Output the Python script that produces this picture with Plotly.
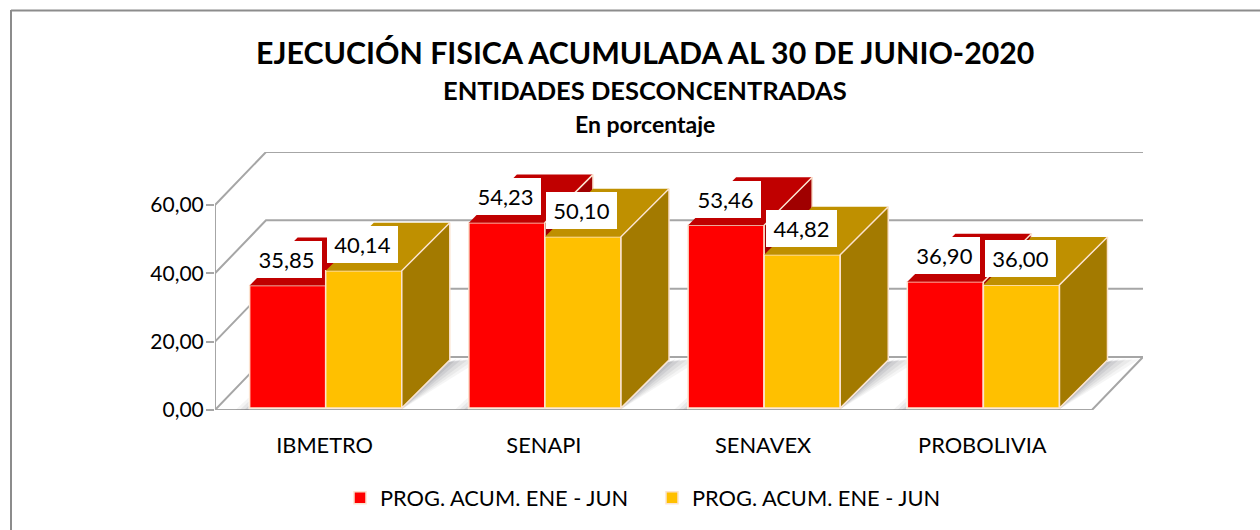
import plotly.graph_objects as go

categories = ["IBMETRO", "SENAPI", "SENAVEX", "PROBOLIVIA"]
red_values = [35.85, 54.23, 53.46, 36.90]
gold_values = [40.14, 50.10, 44.82, 36.00]
series_name = "PROG. ACUM. ENE - JUN"
y_ticks = [0, 20, 40, 60]

FONT = "Lato"
W, H = 1260, 530
L, R, T, B = 215, 1143, 152, 410
XMIN, XMAX = -0.5, 3.733
YMAX = 75.5
BAR_W = 0.347
BAR_DX, BAR_DY = 0.219, 14.05
WALL_DX, WALL_DY = 0.2326, 15.5
GRID = "#A6A6A6"
EDGE = "#FBE3CF"
BAR_LIFT = 0.6
BAR_NUDGE = 0.005


def px(x):
    return (x - L) / (R - L)


def py(y):
    return (B - y) / (B - T)


fig = go.Figure()


def line(xs, ys, width=2, color=GRID):
    fig.add_trace(go.Scatter(x=xs, y=ys, mode="lines", line=dict(color=color, width=width),
                             showlegend=False, hoverinfo="skip"))


def poly(xs, ys, color, edge=None, xa="x", ya="y"):
    fig.add_trace(go.Scatter(x=xs + xs[:1], y=ys + ys[:1], mode="lines", fill="toself", fillcolor=color,
                             line=dict(color=edge or "rgba(0,0,0,0)", width=1.5 if edge else 0),
                             showlegend=False, hoverinfo="skip", xaxis=xa, yaxis=ya))


# Walls and floor
for v in y_ticks:
    line([XMIN, XMIN + WALL_DX, XMAX], [v, v + WALL_DY, v + WALL_DY])
line([XMIN, 3.5, XMAX], [0, 0, WALL_DY])
line([XMIN, XMIN], [0, y_ticks[-1]])

# Floor shadows
for i in range(len(categories)):
    xr = i + BAR_W
    for s, a in ((0.15, 0.07), (0.12, 0.08), (0.09, 0.1), (0.06, 0.13), (0.035, 0.16), (0.015, 0.2)):
        poly([xr, xr + BAR_DX, xr + BAR_DX + s], [0, BAR_DY, BAR_DY + 0.8], f"rgba(110,112,120,{a})")
    xl = i - BAR_W
    for s, a in ((0.06, 0.08), (0.04, 0.1), (0.02, 0.15)):
        poly([xl - s, xl, xl], [0, 0, s * 60], f"rgba(110,112,120,{a})")


def add_series(vals, offset, front, top, side, xa, ya):
    fig.add_trace(go.Bar(x=list(range(len(vals))), y=vals, width=BAR_W, offset=offset, name=series_name,
                         marker=dict(color=front, line=dict(color=EDGE, width=1.5)),
                         hoverinfo="skip", xaxis=xa, yaxis=ya))
    for i, v in enumerate(vals):
        x0, x1 = i + offset, i + offset + BAR_W
        poly([x0, x1, x1 + BAR_DX, x0 + BAR_DX], [v, v, v + BAR_DY, v + BAR_DY], top, None, xa, ya)
        poly([x1, x1 + BAR_DX, x1 + BAR_DX, x1], [0, BAR_DY, v + BAR_DY, v], side, EDGE, xa, ya)


add_series(red_values, -BAR_W, "#FF0000", "#C00000", "#A00000", "x2", "y2")
add_series(gold_values, 0, "#FFC000", "#BF9000", "#A37A00", "x3", "y3")

annotations = []
for vals, shift in ((red_values, -BAR_W / 2), (gold_values, BAR_W / 2)):
    for i, v in enumerate(vals):
        annotations.append(dict(x=i + shift, y=v, xref="x", yref="y", yshift=28, showarrow=False,
                                text=f"{v:.2f}".replace(".", ","), bgcolor="white", width=71, height=37,
                                borderpad=0, borderwidth=0,
                                align="center", valign="middle", font=dict(family=FONT, size=22, color="black")))
for text, cx, cy, size in (
    ("<b>EJECUCIÓN FISICA ACUMULADA AL 30 DE JUNIO-2020</b>", 645, 52, 30.3),
    ("<b>ENTIDADES DESCONCENTRADAS</b>", 645, 90, 25.5),
    ("<b>En porcentaje</b>", 645, 124, 23),
):
    annotations.append(dict(x=px(cx), y=py(cy), xref="paper", yref="paper", showarrow=False, text=text,
                            xanchor="center", yanchor="middle", font=dict(family=FONT, size=size, color="black")))

shapes = [
    dict(type="line", xref="paper", yref="paper", x0=px(11), x1=px(W), y0=py(10.5), y1=py(10.5),
         line=dict(color="#8C8C8C", width=2)),
    dict(type="line", xref="paper", yref="paper", x0=px(11), x1=px(11), y0=py(10), y1=py(H),
         line=dict(color="#8C8C8C", width=2)),
]

hidden = dict(visible=False, range=[XMIN - BAR_NUDGE, XMAX - BAR_NUDGE])
hiddeny = dict(visible=False, range=[-BAR_LIFT, YMAX - BAR_LIFT])
fig.update_layout(
    width=W, height=H, margin=dict(l=L, r=W - R, t=T, b=H - B, autoexpand=False),
    paper_bgcolor="white", plot_bgcolor="rgba(0,0,0,0)", separators=",.",
    font=dict(family=FONT, size=22, color="black"),
    xaxis=dict(range=[XMIN, XMAX], tickvals=list(range(len(categories))), ticktext=categories, showgrid=False,
               zeroline=False, showline=False, ticks="outside", ticklen=16, tickcolor="rgba(0,0,0,0)",
               tickfont=dict(family=FONT, size=21.8)),
    yaxis=dict(range=[0, YMAX], tickvals=y_ticks, tickformat=".2f", showgrid=False, zeroline=False, showline=False,
               ticks="outside", ticklen=8, tickwidth=2, tickcolor=GRID, ticklabelstandoff=-2,
               tickfont=dict(family=FONT, size=21)),
    xaxis2=dict(hidden, overlaying="x", anchor="y2"),
    yaxis2=dict(hiddeny, overlaying="y", anchor="x2"),
    xaxis3=dict(hidden, overlaying="x", anchor="y3"),
    yaxis3=dict(hiddeny, overlaying="y", anchor="x3"),
    legend=dict(orientation="h", xref="container", yref="container", x=340 / W, y=1 - 498 / H, xanchor="left",
                yanchor="middle", entrywidth=267, entrywidthmode="pixels", font=dict(family=FONT, size=21.8),
                bgcolor="rgba(0,0,0,0)"),
    annotations=annotations, shapes=shapes,
)

fig.write_html("out.html", config={"displayModeBar": False},
               post_script="document.body.style.margin='0';document.body.style.overflow='hidden';")
